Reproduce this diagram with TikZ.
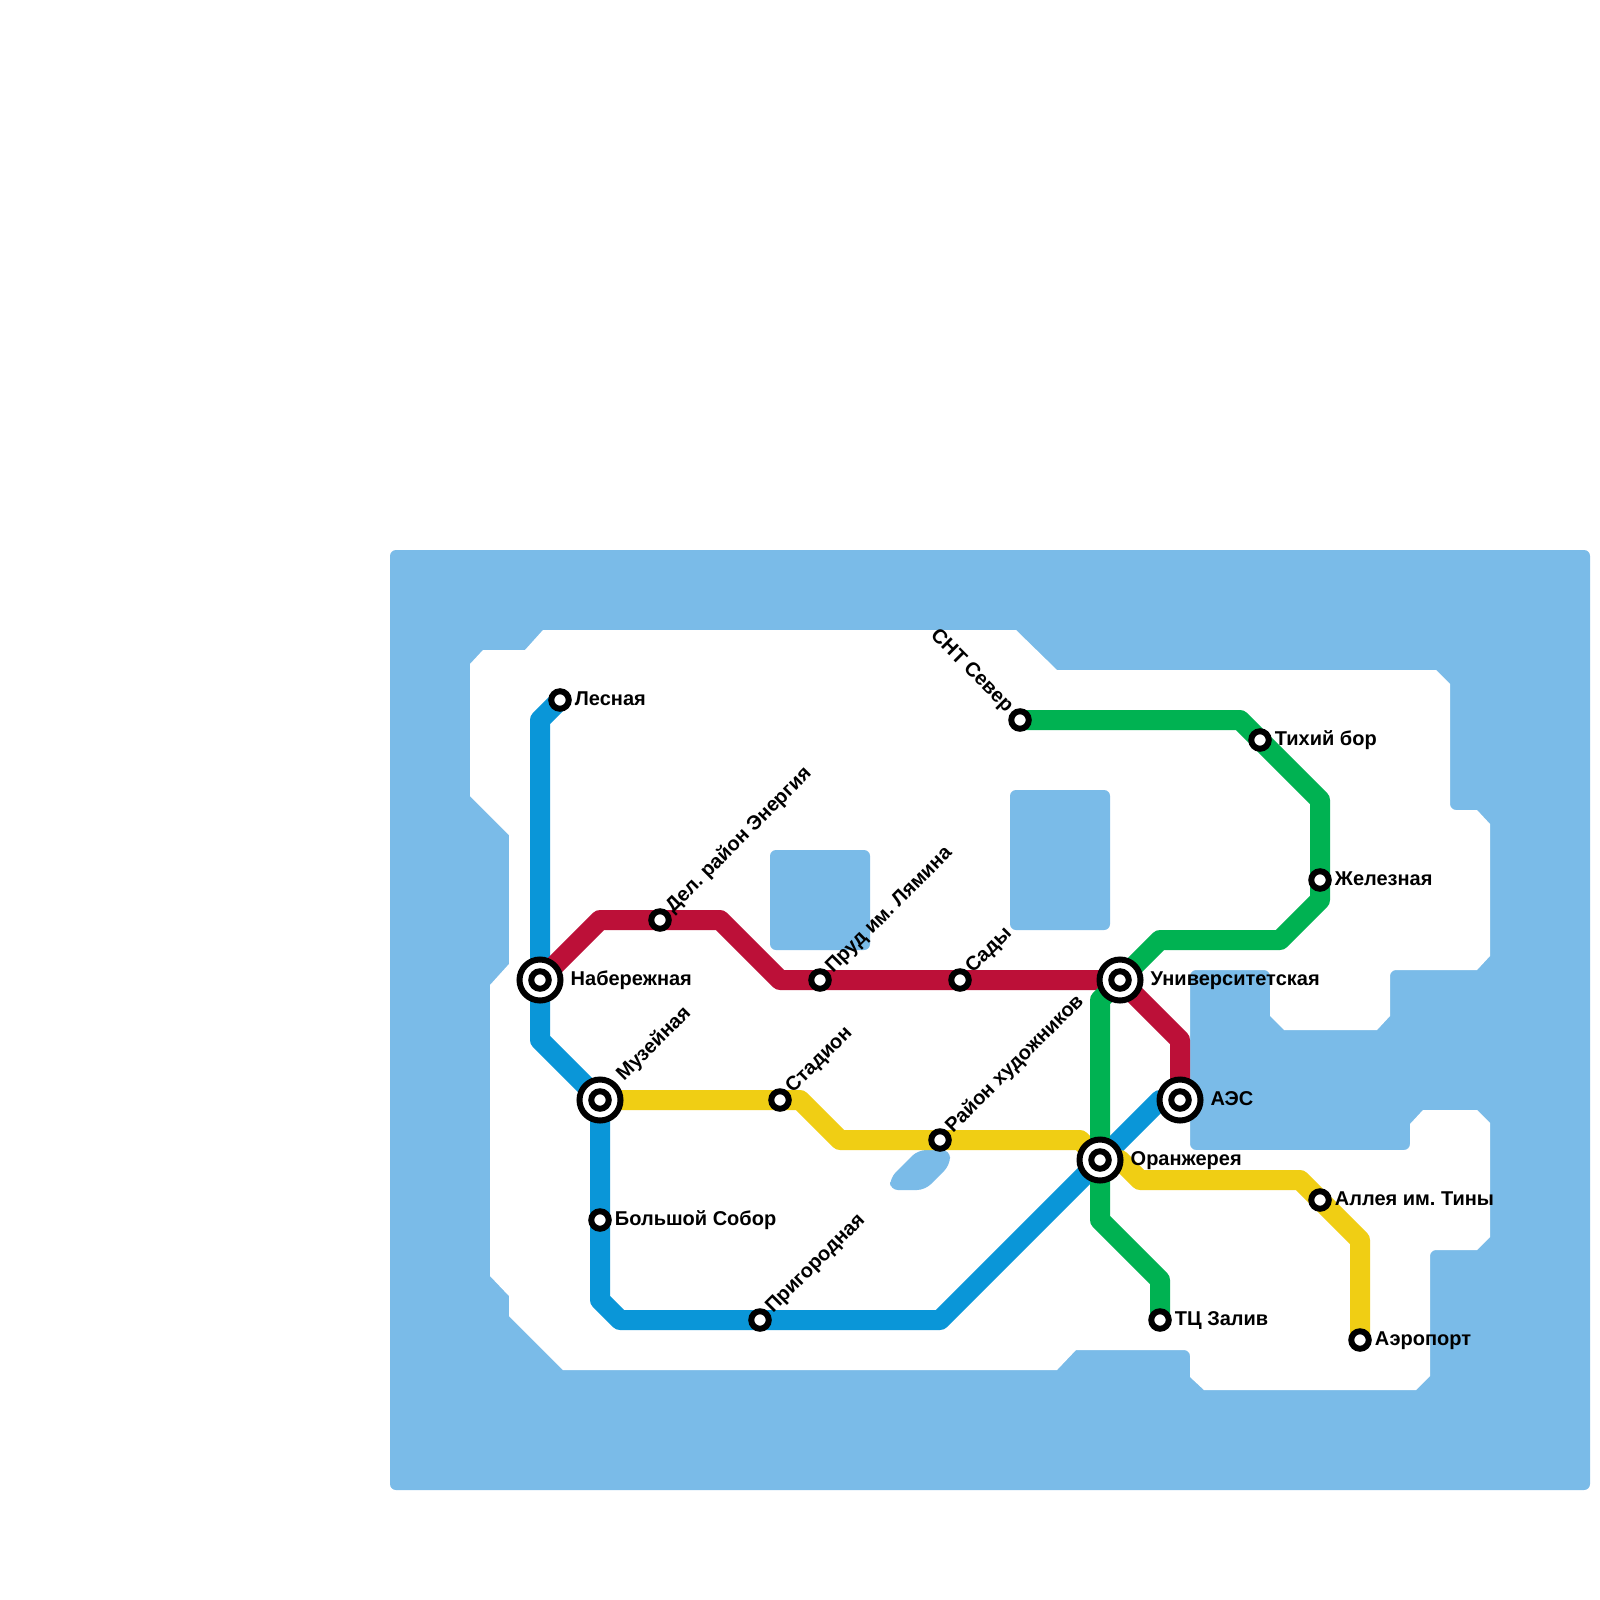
\documentclass[tikz,border=0pt]{standalone}
\usepackage{fontspec}
\setmainfont{Liberation Sans}
\usetikzlibrary{backgrounds, positioning}

\definecolor{waterc}{HTML}{7ABBE8}
\definecolor{bluec}{HTML}{0A96D8}
\definecolor{redc}{HTML}{BC1038}
\definecolor{greenc}{HTML}{00B252}
\definecolor{yellowc}{HTML}{F0CE14}

\begin{document}
\frenchspacing
\begin{tikzpicture}[
  x=1pt, y=-1pt,
  font=\fontsize{20}{20}\selectfont\bfseries,
  station/.style={circle, draw, line width=6pt, minimum size=17.5pt, inner sep=0pt, fill=white},
  ring/.style={circle, draw, line width=6pt, minimum size=41pt, inner sep=0pt, fill=white},
  tag/.style={inner sep=0pt, text height=14pt, text depth=3pt},
  tagup/.style={tag, rotate=45, anchor=west},
  tagback/.style={tag, rotate=-45, anchor=east},
  route/.style={line width=20pt, line join=round},
  node distance=3pt and 3pt
]
  \useasboundingbox (0,0) rectangle (1600,1600);

  \node[ring] (naberezhring) at (540,980) {};
  \node[ring] (muzeyring) at (600,1100) {};
  \node[ring] (univerring) at (1120,980) {};
  \node[ring] (aesring) at (1180,1100) {};
  \node[ring] (oranzhring) at (1100,1160) {};

  \node[station] (naberezh) at (540,980) {};
  \node[station] (muzey) at (600,1100) {};
  \node[station] (univer) at (1120,980) {};
  \node[station] (aes) at (1180,1100) {};
  \node[station] (oranzh) at (1100,1160) {};
  \node[station] (lesnaya) at (560,700) {};
  \node[station] (sobor) at (600,1220) {};
  \node[station] (prigorod) at (760,1320) {};
  \node[station] (energy) at (660,920) {};
  \node[station] (lyamin) at (820,980) {};
  \node[station] (sady) at (960,980) {};
  \node[station] (stadion) at (780,1100) {};
  \node[station] (hudozh) at (940,1140) {};
  \node[station] (alleya) at (1320,1200) {};
  \node[station] (aero) at (1360,1340) {};
  \node[station] (snt) at (1020,720) {};
  \node[station] (tihiy) at (1260,740) {};
  \node[station] (zhelez) at (1320,880) {};
  \node[station] (zaliv) at (1160,1320) {};

  \node[tag, right=of lesnaya] (lesnayatag) {Лесная};
  \node[tag, right=7pt of naberezhring] (naberezhtag) {Набережная};
  \node[tag, right=of sobor] (sobortag) {Большой Собор};
  \node[tag, right=7pt of univerring] (univertag) {Университетская};
  \node[tag, right=7pt of aesring] (aestag) {АЭС};
  \node[tag, right=7pt of oranzhring] (oranzhtag) {Оранжерея};
  \node[tag, right=of tihiy] (tihiytag) {Тихий бор};
  \node[tag, right=of zhelez] (zheleztag) {Железная};
  \node[tag, right=of alleya] (alleyatag) {Аллея им. Тины};
  \node[tag, right=of zaliv] (zalivtag) {ТЦ Залив};
  \node[tag, right=of aero] (aerotag) {Аэропорт};

  \node[tagup] (muzeytag) at ([shift={(20,-22)}]muzey.center) {Музейная};
  \node[tagup] (energytag) at ([shift={(9,-10)}]energy.center) {Дел. район Энергия};
  \node[tagup] (lyamintag) at ([shift={(9,-10)}]lyamin.center) {Пруд им. Лямина};
  \node[tagup] (sadytag) at ([shift={(9,-10)}]sady.center) {Сады};
  \node[tagup] (stadiontag) at ([shift={(9,-10)}]stadion.center) {Стадион};
  \node[tagup] (hudozhtag) at ([shift={(9,-10)}]hudozh.center) {Район художников};
  \node[tagup] (prigorodtag) at ([shift={(9,-10)}]prigorod.center) {Пригородная};
  \node[tagback] (snttag) at ([shift={(-10,-11)}]snt.center) {СНТ Север};

  \coordinate (blue1) at (540,720);
  \coordinate (blue2) at (540,1040);
  \coordinate (blue3) at (600,1300);
  \coordinate (blue4) at (620,1320);
  \coordinate (blue5) at (940,1320);
  \coordinate (blue6) at (1160,1100);
  \coordinate (red1) at (600,920);
  \coordinate (red2) at (720,920);
  \coordinate (red3) at (780,980);
  \coordinate (red4) at (1180,1040);
  \coordinate (green1) at (1240,720);
  \coordinate (green2) at (1320,800);
  \coordinate (green3) at (1320,900);
  \coordinate (green4) at (1280,940);
  \coordinate (green5) at (1160,940);
  \coordinate (green6) at (1100,1000);
  \coordinate (green7) at (1100,1220);
  \coordinate (green8) at (1160,1280);
  \coordinate (yellow1) at (800,1100);
  \coordinate (yellow2) at (840,1140);
  \coordinate (yellow3) at (1080,1140);
  \coordinate (yellow4) at (1120,1160);
  \coordinate (yellow5) at (1140,1180);
  \coordinate (yellow6) at (1300,1180);
  \coordinate (yellow7) at (1360,1240);

  \begin{scope}[on background layer]
    \fill[waterc, rounded corners=6pt] (390,550) rectangle (1590,1490);
    \fill[white] (543,630) -- (525,650) -- (483,650) -- (470,664) -- (470,796)
      -- (509,835) -- (509,964) -- (490,985) -- (490,1276) -- (509,1296)
      -- (509,1316) -- (563,1370) -- (1057,1370) -- (1076,1350)
      [rounded corners=6pt] -- (1190,1350) [sharp corners] -- (1190,1377)
      -- (1204,1390) -- (1416,1390) -- (1430,1376)
      [rounded corners=6pt] -- (1430,1250) [sharp corners] -- (1477,1250)
      -- (1490,1237) -- (1490,1123) -- (1477,1110) -- (1423,1110) -- (1410,1124)
      [rounded corners=6pt] -- (1410,1150) -- (1190,1150) -- (1190,970) -- (1270,970)
      [sharp corners] -- (1270,1016) -- (1284,1030) -- (1377,1030) -- (1390,1016)
      [rounded corners=6pt] -- (1390,970) [sharp corners] -- (1477,970)
      -- (1490,956) -- (1490,824) -- (1477,810)
      [rounded corners=6pt] -- (1450,810) [sharp corners] -- (1450,684)
      -- (1436,670) -- (1057,670) -- (1016,630) -- cycle;
    \fill[waterc, rounded corners=6pt] (770,850) rectangle (870,950);
    \fill[waterc, rounded corners=6pt] (1010,790) rectangle (1110,930);
    \fill[waterc, rounded corners=8pt] (890,1190) -- (925,1190) -- (950,1165)
      -- (950,1150) -- (918,1150) -- (890,1178) -- cycle;

    \draw[route, bluec] (lesnaya.center) -- (blue1) -- (blue2) -- (muzey.center)
      -- (blue3) -- (blue4) -- (blue5) -- (blue6) -- (aes.center);
    \draw[route, yellowc] (muzey.center) -- (yellow1) -- (yellow2) -- (yellow3)
      -- (oranzh.center) -- (yellow4) -- (yellow5) -- (yellow6) -- (yellow7) -- (aero.center);
    \draw[route, redc] (naberezh.center) -- (red1) -- (red2) -- (red3)
      -- (univer.center) -- (red4) -- (aes.center);
    \draw[route, greenc] (snt.center) -- (green1) -- (green2) -- (green3)
      -- (green4) -- (green5) -- (green6) -- (green7) -- (green8) -- (zaliv.center);
  \end{scope}
\end{tikzpicture}
\end{document}
